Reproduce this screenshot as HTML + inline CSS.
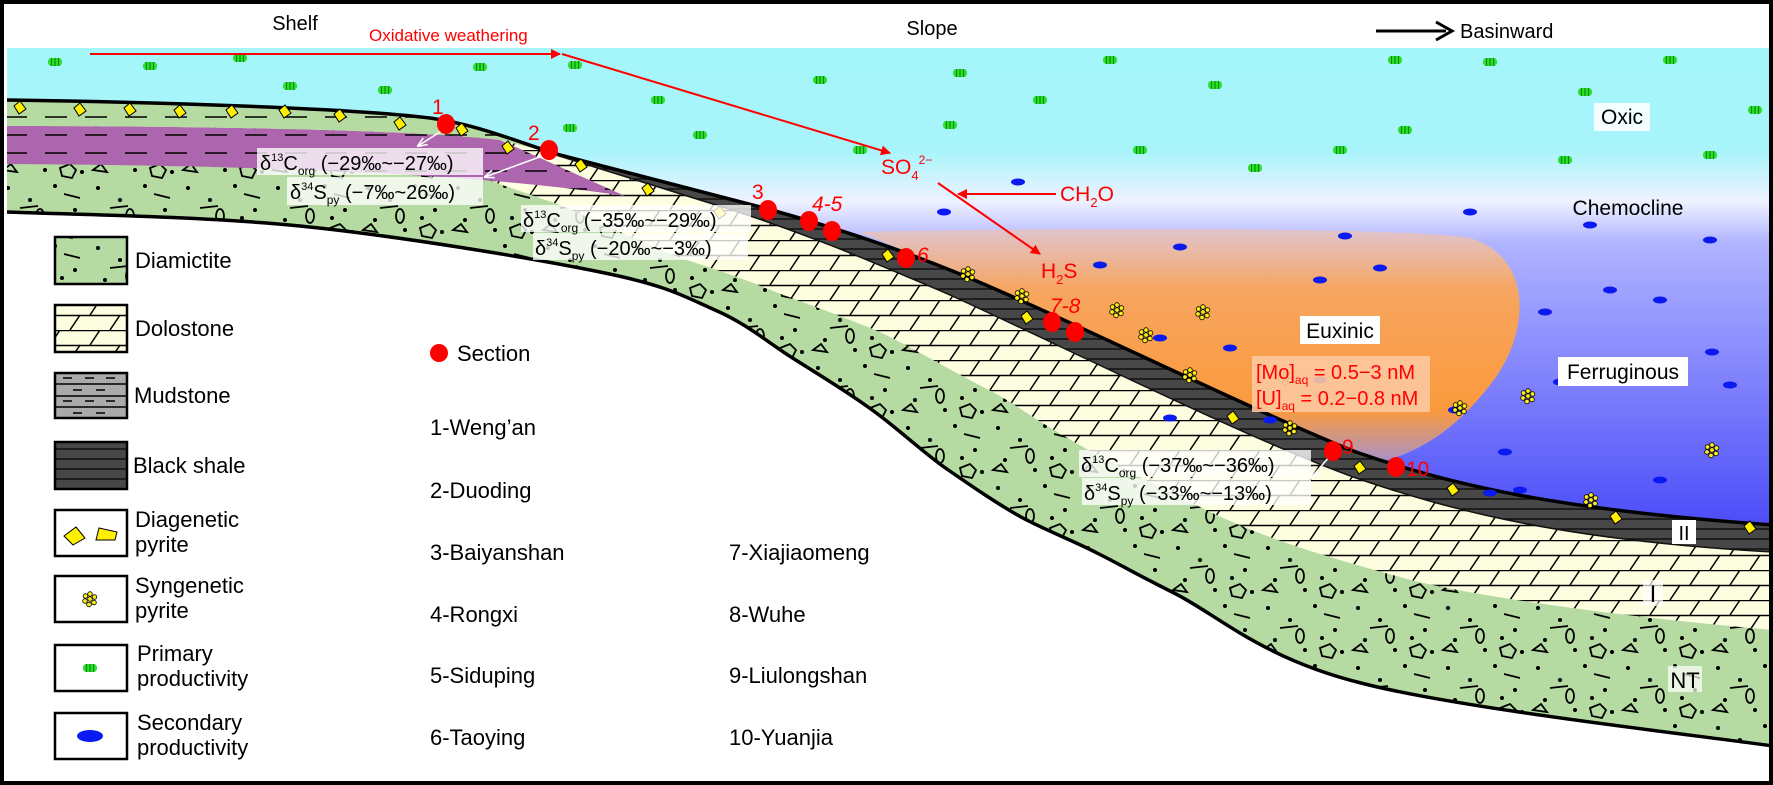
<!DOCTYPE html>
<html><head><meta charset="utf-8"><style>
html,body{margin:0;padding:0;background:#fff}
svg{display:block}
text{font-family:"Liberation Sans",sans-serif}
</style></head><body>
<svg width="1773" height="785" viewBox="0 0 1773 785" xmlns="http://www.w3.org/2000/svg">
<defs>
<linearGradient id="sea" x1="0" y1="48" x2="0" y2="560" gradientUnits="userSpaceOnUse">
<stop offset="0" stop-color="#a4f6fb"/><stop offset="0.2" stop-color="#a8f4fb"/><stop offset="0.3" stop-color="#eef2ff"/><stop offset="0.38" stop-color="#b0b4ff"/><stop offset="1" stop-color="#4040f8"/>
</linearGradient>
<linearGradient id="eux" x1="0" y1="230" x2="0" y2="470" gradientUnits="userSpaceOnUse">
<stop offset="0" stop-color="#e0c4cc"/><stop offset="0.25" stop-color="#f7a560"/><stop offset="0.75" stop-color="#fb9a3c"/><stop offset="1" stop-color="#9a90e0"/>
</linearGradient>
<pattern id="dia" width="90" height="60" patternUnits="userSpaceOnUse">
<rect width="90" height="60" fill="#b5dba2"/>
<g fill="#000"><circle cx="8" cy="8" r="2"/><circle cx="30" cy="20" r="2"/><circle cx="55" cy="6" r="2"/><circle cx="75" cy="30" r="2"/><circle cx="15" cy="40" r="2"/><circle cx="45" cy="50" r="2"/><circle cx="82" cy="52" r="2"/><circle cx="62" cy="38" r="2"/></g>
<g fill="none" stroke="#000" stroke-width="1.8"><line x1="20" y1="28" x2="38" y2="26"/><line x1="64" y1="14" x2="80" y2="18"/><ellipse cx="40" cy="36" rx="4" ry="7"/><path d="M60,48 l10,-4 l6,6 l-4,8 l-10,-2z"/><path d="M3,50 l8,-6 l6,8 z"/></g>
</pattern>
<pattern id="dol" width="40" height="30" patternUnits="userSpaceOnUse">
<rect width="40" height="30" fill="#fdfde0"/>
<g stroke="#000" stroke-width="1.5"><line x1="0" y1="0.5" x2="40" y2="0.5"/><line x1="0" y1="15.5" x2="40" y2="15.5"/><line x1="10" y1="15" x2="20" y2="0"/><line x1="30" y1="30" x2="40" y2="15"/><line x1="-10" y1="30" x2="0" y2="15"/></g>
</pattern>
<pattern id="sh" width="40" height="10" patternUnits="userSpaceOnUse">
<rect width="40" height="10" fill="#474747"/><line x1="0" y1="9" x2="40" y2="9" stroke="#111" stroke-width="1.5"/>
</pattern>
<pattern id="dash" width="40" height="18" patternUnits="userSpaceOnUse">
<line x1="5" y1="9" x2="27" y2="9" stroke="#000" stroke-width="1.6"/>
</pattern>
<marker id="ar" markerWidth="10" markerHeight="10" refX="9" refY="5" orient="auto" markerUnits="userSpaceOnUse"><path d="M0,0 L10,5 L0,10 z" fill="#f00"/></marker>
<marker id="aw" markerWidth="10" markerHeight="10" refX="9" refY="5" orient="auto" markerUnits="userSpaceOnUse"><path d="M0,1 L10,5 L0,9" fill="none" stroke="#fff" stroke-width="1.5"/></marker>
<g id="gp"><rect x="-7" y="-4" width="14" height="8" rx="3.5" fill="#2de02d"/><g stroke="#0a8a0a" stroke-width="1.2"><line x1="-3.5" y1="-4" x2="-3.5" y2="4"/><line x1="0" y1="-4" x2="0" y2="4"/><line x1="3.5" y1="-4" x2="3.5" y2="4"/></g></g>
<g id="bp"><ellipse rx="7" ry="3.5" fill="#0a1af0"/></g>
<g id="sp" fill="#ffef1a" stroke="#000" stroke-width="0.8"><circle cx="0" cy="-5" r="2.3"/><circle cx="4.5" cy="-2" r="2.3"/><circle cx="4" cy="3.5" r="2.3"/><circle cx="-1" cy="5.5" r="2.3"/><circle cx="-5" cy="2" r="2.3"/><circle cx="-4.5" cy="-3" r="2.3"/><circle cx="0" cy="0" r="2.3"/></g>
<g id="yp"><path d="M-6,-2 L0,-7 L6,1 L-1,6 z" fill="#ffef00" stroke="#000" stroke-width="1"/></g>
</defs>

<!-- sea -->
<rect x="7" y="48" width="1762" height="500" fill="url(#sea)"/>
<!-- euxinic -->
<path d="M860,232 C1000,228 1400,226 1470,238 C1535,258 1530,335 1490,385 C1455,430 1420,452 1380,462 L1356,452 C1250,410 1050,310 950,270 Z" fill="url(#eux)"/>

<!-- white below basement -->
<path d="M1773,746 C1704,736 1461,709 1361,683 C1261,658 1218,615 1174,593 C1130,571 1123,566 1097,553 C1072,540 1047,531 1021,517 C996,503 970,485 944,467 C919,449 894,425 868,407 C843,389 816,373 791,357 C766,341 747,324 715,310 C683,296 669,286 600,272 C531,258 399,236 300,226 C201,216 56,214 7,212 L7,785 L1773,785 Z" fill="#fff"/>

<!-- diamictite -->
<path d="M7,100 C150,102 350,108 430,118 C480,125 520,143 560,155 L768,209 C850,232 900,250 950,270 C1050,310 1250,410 1356,452 C1450,485 1560,510 1773,525 L1773,746 C1704,736 1461,709 1361,683 C1261,658 1218,615 1174,593 C1130,571 1123,566 1097,553 C1072,540 1047,531 1021,517 C996,503 970,485 944,467 C919,449 894,425 868,407 C843,389 816,373 791,357 C766,341 747,324 715,310 C683,296 669,286 600,272 C531,258 399,236 300,226 C201,216 56,214 7,212 Z" fill="url(#dia)"/>
<!-- dolostone -->
<path d="M7,100 C150,102 350,108 430,118 C480,125 520,143 560,155 L768,209 C850,232 900,250 950,270 C1050,310 1250,410 1356,452 C1450,485 1560,510 1773,525 L1773,630 C1600,615 1450,592 1400,577 C1320,555 1260,537 1200,507 C1150,482 1100,458 1059,433 C1020,410 1010,400 983,387 C940,365 900,340 868,327 C820,308 790,298 753,283 C720,270 690,262 660,250 C620,232 590,218 560,205 L482,178 L400,160 L7,150 Z" fill="url(#dol)"/>
<!-- purple -->
<path d="M7,126 C200,126 420,130 500,140 L625,196 C520,180 350,166 7,164 Z" fill="#ad66ad"/>
<path d="M7,126 C200,126 420,130 500,140 L625,196 C520,180 350,166 7,164 Z" fill="url(#dash)"/>
<!-- shale -->
<path d="M560,155 L768,209 C850,232 900,250 950,270 C1050,310 1250,410 1356,452 C1450,485 1560,510 1773,525 L1773,552 C1560,540 1450,510 1356,478 C1250,440 1060,345 950,295 C880,265 800,230 700,200 L540,150 Z" fill="url(#sh)"/>
<!-- shelf mud band -->
<path d="M7,100 C150,102 350,108 430,118 C480,125 520,143 560,155 L500,140 C420,130 200,126 7,126 Z" fill="#b5dba2"/>
<path d="M7,100 C150,102 350,108 430,118 C480,125 520,143 560,155 L500,140 C420,130 200,126 7,126 Z" fill="url(#dash)"/>
<!-- outlines -->
<path d="M7,100 C150,102 350,108 430,118 C480,125 520,143 560,155 L768,209 C850,232 900,250 950,270 C1050,310 1250,410 1356,452 C1450,485 1560,510 1773,525" fill="none" stroke="#000" stroke-width="3.5"/>
<path d="M7,212 C56,214 201,216 300,226 C399,236 531,258 600,272 C669,286 683,296 715,310 C747,324 766,341 791,357 C816,373 843,389 868,407 C894,425 919,449 944,467 C970,485 996,503 1021,517 C1047,531 1072,540 1097,553 C1123,566 1130,571 1174,593 C1218,615 1261,658 1361,683 C1461,709 1704,736 1773,746" fill="none" stroke="#000" stroke-width="3.5"/>
<path d="M1773,552 C1560,540 1450,510 1356,478 C1250,440 1060,345 950,295 C880,265 800,230 700,200 L540,150" fill="none" stroke="#111" stroke-width="1.5"/>

<!-- productivity -->
<g>
<use href="#gp" x="55" y="62"/><use href="#gp" x="150" y="66"/><use href="#gp" x="240" y="58"/><use href="#gp" x="290" y="86"/><use href="#gp" x="385" y="90"/><use href="#gp" x="480" y="67"/><use href="#gp" x="570" y="128"/><use href="#gp" x="575" y="65"/><use href="#gp" x="658" y="100"/><use href="#gp" x="700" y="135"/><use href="#gp" x="820" y="80"/><use href="#gp" x="960" y="73"/><use href="#gp" x="950" y="125"/><use href="#gp" x="1040" y="100"/><use href="#gp" x="1140" y="150"/><use href="#gp" x="1215" y="85"/><use href="#gp" x="1255" y="168"/><use href="#gp" x="1340" y="150"/><use href="#gp" x="1395" y="60"/><use href="#gp" x="1405" y="130"/><use href="#gp" x="1490" y="62"/><use href="#gp" x="1565" y="160"/><use href="#gp" x="1585" y="92"/><use href="#gp" x="1670" y="60"/><use href="#gp" x="1710" y="155"/><use href="#gp" x="1755" y="110"/><use href="#gp" x="1110" y="60"/><use href="#gp" x="860" y="150"/>
</g>
<g>
<use href="#bp" x="944" y="212"/><use href="#bp" x="1018" y="182"/><use href="#bp" x="1100" y="265"/><use href="#bp" x="1180" y="247"/><use href="#bp" x="1320" y="280"/><use href="#bp" x="1380" y="268"/><use href="#bp" x="1470" y="212"/><use href="#bp" x="1545" y="312"/><use href="#bp" x="1660" y="300"/><use href="#bp" x="1712" y="352"/><use href="#bp" x="1610" y="290"/><use href="#bp" x="1730" y="385"/><use href="#bp" x="1560" y="382"/><use href="#bp" x="1455" y="410"/><use href="#bp" x="1505" y="452"/><use href="#bp" x="1660" y="480"/><use href="#bp" x="1520" y="490"/><use href="#bp" x="1160" y="338"/><use href="#bp" x="1230" y="348"/><use href="#bp" x="1320" y="380"/><use href="#bp" x="1270" y="420"/><use href="#bp" x="1345" y="236"/><use href="#bp" x="1590" y="225"/><use href="#bp" x="1710" y="240"/><use href="#bp" x="1490" y="493"/><use href="#bp" x="1170" y="418"/>
</g>
<g>
<use href="#sp" x="968" y="274"/><use href="#sp" x="1022" y="296"/><use href="#sp" x="1117" y="310"/><use href="#sp" x="1146" y="335"/><use href="#sp" x="1203" y="312"/><use href="#sp" x="1190" y="375"/><use href="#sp" x="1286" y="377"/><use href="#sp" x="1290" y="428"/><use href="#sp" x="1460" y="408"/><use href="#sp" x="1528" y="396"/><use href="#sp" x="1591" y="500"/><use href="#sp" x="1712" y="450"/>
</g>
<g>
<use href="#yp" x="20" y="108"/><use href="#yp" x="80" y="110"/><use href="#yp" x="130" y="110"/><use href="#yp" x="180" y="112"/><use href="#yp" x="232" y="112"/><use href="#yp" x="285" y="112"/><use href="#yp" x="340" y="116"/><use href="#yp" x="400" y="124"/><use href="#yp" x="462" y="130"/><use href="#yp" x="508" y="148"/><use href="#yp" x="581" y="166"/><use href="#yp" x="648" y="190"/><use href="#yp" x="720" y="213"/><use href="#yp" x="888" y="256"/><use href="#yp" x="1027" y="318"/><use href="#yp" x="1233" y="418"/><use href="#yp" x="1360" y="468"/><use href="#yp" x="1453" y="490"/><use href="#yp" x="1616" y="518"/><use href="#yp" x="1750" y="528"/>
</g>

<!-- red process arrows -->
<line x1="90" y1="54" x2="560" y2="54" stroke="#f00" stroke-width="2" marker-end="url(#ar)"/>
<line x1="562" y1="54" x2="890" y2="153" stroke="#f00" stroke-width="2" marker-end="url(#ar)"/>
<line x1="938" y1="183" x2="1040" y2="254" stroke="#f00" stroke-width="2" marker-end="url(#ar)"/>
<line x1="1056" y1="194" x2="958" y2="194" stroke="#f00" stroke-width="2" marker-end="url(#ar)"/>
<text x="369" y="41" font-size="17" fill="#f00">Oxidative weathering</text>
<text x="881" y="174" font-size="21" fill="#f00">SO<tspan font-size="13" dy="6">4</tspan><tspan font-size="12" dy="-16">2−</tspan></text>
<text x="1060" y="201" font-size="21" fill="#f00">CH<tspan font-size="13" dy="6">2</tspan><tspan dy="-6">O</tspan></text>
<text x="1041" y="278" font-size="21" fill="#f00">H<tspan font-size="13" dy="6">2</tspan><tspan dy="-6">S</tspan></text>

<!-- zone labels -->
<rect x="1594" y="103" width="56" height="28" fill="#fff" opacity="0.85"/>
<text x="1622" y="124" font-size="21" text-anchor="middle">Oxic</text>
<text x="1628" y="215" font-size="21" text-anchor="middle">Chemocline</text>
<rect x="1300" y="316" width="80" height="28" fill="#fff"/>
<text x="1340" y="338" font-size="21" text-anchor="middle">Euxinic</text>
<rect x="1558" y="357" width="130" height="29" fill="#fff"/>
<text x="1623" y="379" font-size="21" text-anchor="middle">Ferruginous</text>
<rect x="1252" y="356" width="178" height="56" fill="#fcc8a0" opacity="0.9"/>
<text x="1256" y="379" font-size="20" fill="#f00">[Mo]<tspan font-size="12" dy="5">aq</tspan><tspan dy="-5"> = 0.5−3 nM</tspan></text>
<text x="1256" y="405" font-size="20" fill="#f00">[U]<tspan font-size="12" dy="5">aq</tspan><tspan dy="-5"> = 0.2−0.8 nM</tspan></text>

<!-- roman -->
<rect x="1672" y="520" width="24" height="24" fill="#fff"/><text x="1684" y="540" font-size="20" text-anchor="middle" font-family="Liberation Serif">II</text>
<rect x="1643" y="580" width="20" height="26" fill="#fff" opacity="0.7"/><text x="1653" y="602" font-size="24" text-anchor="middle" font-family="Liberation Serif">I</text>
<rect x="1668" y="666" width="34" height="26" fill="#fff" opacity="0.7"/><text x="1685" y="688" font-size="22" text-anchor="middle">NT</text>

<!-- isotope boxes -->
<g font-size="20">
<rect x="257" y="148" width="226" height="27" fill="#fff" opacity="0.78"/>
<rect x="287" y="177" width="196" height="28" fill="#fff" opacity="0.78"/>
<text x="260" y="170">δ<tspan font-size="11" dy="-9">13</tspan><tspan dy="9">C</tspan><tspan font-size="12" dy="5">org</tspan><tspan dy="-5"> (−29‰~−27‰)</tspan></text>
<text x="290" y="199">δ<tspan font-size="11" dy="-9">34</tspan><tspan dy="9">S</tspan><tspan font-size="12" dy="5">py</tspan><tspan dy="-5"> (−7‰~26‰)</tspan></text>
<rect x="521" y="205" width="230" height="27" fill="#fff" opacity="0.78"/>
<rect x="533" y="233" width="215" height="27" fill="#fff" opacity="0.78"/>
<text x="523" y="227">δ<tspan font-size="11" dy="-9">13</tspan><tspan dy="9">C</tspan><tspan font-size="12" dy="5">org</tspan><tspan dy="-5"> (−35‰~−29‰)</tspan></text>
<text x="535" y="255">δ<tspan font-size="11" dy="-9">34</tspan><tspan dy="9">S</tspan><tspan font-size="12" dy="5">py</tspan><tspan dy="-5"> (−20‰~−3‰)</tspan></text>
<rect x="1079" y="450" width="232" height="27" fill="#fff" opacity="0.78"/>
<rect x="1082" y="478" width="229" height="27" fill="#fff" opacity="0.78"/>
<text x="1081" y="472">δ<tspan font-size="11" dy="-9">13</tspan><tspan dy="9">C</tspan><tspan font-size="12" dy="5">org</tspan><tspan dy="-5"> (−37‰~−36‰)</tspan></text>
<text x="1084" y="500">δ<tspan font-size="11" dy="-9">34</tspan><tspan dy="9">S</tspan><tspan font-size="12" dy="5">py</tspan><tspan dy="-5"> (−33‰~−13‰)</tspan></text>
</g>
<line x1="443" y1="130" x2="418" y2="146" stroke="#fff" stroke-width="1.5" marker-end="url(#aw)"/>
<line x1="545" y1="155" x2="485" y2="177" stroke="#fff" stroke-width="1.5" marker-end="url(#aw)"/>
<line x1="1330" y1="456" x2="1311" y2="478" stroke="#fff" stroke-width="1.5" marker-end="url(#aw)"/>

<!-- section dots -->
<g fill="#f00">
<ellipse cx="446" cy="124" rx="9" ry="10"/><ellipse cx="549" cy="150" rx="9" ry="10"/><ellipse cx="768" cy="210" rx="9" ry="10"/><ellipse cx="809" cy="221" rx="9" ry="10"/><ellipse cx="832" cy="231" rx="9" ry="10"/><ellipse cx="906" cy="258" rx="9" ry="10"/><ellipse cx="1052" cy="322" rx="9" ry="10"/><ellipse cx="1075" cy="332" rx="9" ry="10"/><ellipse cx="1333" cy="451" rx="9" ry="10"/><ellipse cx="1396" cy="467" rx="9" ry="10"/>
</g>
<g fill="#f00" font-size="21">
<text x="432" y="114">1</text><text x="528" y="140">2</text><text x="752" y="199">3</text><text x="812" y="211" font-style="italic">4-5</text><text x="917" y="262" font-style="italic">6</text><text x="1050" y="313" font-style="italic">7-8</text><text x="1342" y="454">9</text><text x="1406" y="476">10</text>
</g>

<!-- top labels -->
<text x="295" y="30" font-size="20" text-anchor="middle">Shelf</text>
<text x="932" y="35" font-size="20" text-anchor="middle">Slope</text>
<line x1="1376" y1="31" x2="1446" y2="31" stroke="#000" stroke-width="3"/>
<path d="M1436,22 L1452,31 L1436,40" fill="none" stroke="#000" stroke-width="3"/>
<text x="1460" y="38" font-size="20">Basinward</text>

<!-- legend -->
<g stroke="#000" stroke-width="2.5">
<rect x="55" y="237" width="72" height="47" fill="url(#dia)"/>
<rect x="55" y="305" width="72" height="47" fill="url(#dol)"/>
<rect x="55" y="373" width="72" height="45" fill="#aaa"/>
<rect x="55" y="442" width="72" height="47" fill="url(#sh)"/>
<rect x="55" y="510" width="72" height="46" fill="#fff"/>
<rect x="55" y="576" width="72" height="46" fill="#fff"/>
<rect x="55" y="645" width="72" height="46" fill="#fff"/>
<rect x="55" y="713" width="72" height="46" fill="#fff"/>
</g>
<g stroke="#000" stroke-width="1.5"><line x1="55" y1="384" x2="127" y2="384"/><line x1="55" y1="396" x2="127" y2="396"/><line x1="55" y1="407" x2="127" y2="407"/><line x1="63" y1="378" x2="72" y2="378"/><line x1="85" y1="378" x2="94" y2="378"/><line x1="106" y1="378" x2="115" y2="378"/><line x1="73" y1="390" x2="82" y2="390"/><line x1="96" y1="390" x2="105" y2="390"/><line x1="63" y1="401" x2="72" y2="401"/><line x1="85" y1="401" x2="94" y2="401"/><line x1="106" y1="401" x2="115" y2="401"/><line x1="73" y1="413" x2="82" y2="413"/><line x1="96" y1="413" x2="105" y2="413"/></g>
<path d="M64,536 L76,527 L85,538 L73,545 z" fill="#ffef00" stroke="#000"/><path d="M99,528 L117,532 L115,540 L96,540 z" fill="#ffef00" stroke="#000"/>
<use href="#sp" x="90" y="599"/>
<use href="#gp" x="90" y="668"/>
<ellipse cx="90" cy="736" rx="13" ry="6" fill="#0a1af0"/>
<g font-size="22">
<text x="135" y="268">Diamictite</text>
<text x="135" y="336">Dolostone</text>
<text x="134" y="403">Mudstone</text>
<text x="133" y="473">Black shale</text>
<text x="135" y="527">Diagenetic</text><text x="135" y="552">pyrite</text>
<text x="135" y="593">Syngenetic</text><text x="135" y="618">pyrite</text>
<text x="137" y="661">Primary</text><text x="137" y="686">productivity</text>
<text x="137" y="730">Secondary</text><text x="137" y="755">productivity</text>
</g>
<circle cx="439" cy="353" r="9" fill="#f00"/>
<g font-size="22">
<text x="457" y="361">Section</text>
<text x="430" y="435">1-Weng’an</text>
<text x="430" y="498">2-Duoding</text>
<text x="430" y="560">3-Baiyanshan</text>
<text x="430" y="622">4-Rongxi</text>
<text x="430" y="683">5-Siduping</text>
<text x="430" y="745">6-Taoying</text>
<text x="729" y="560">7-Xiajiaomeng</text>
<text x="729" y="622">8-Wuhe</text>
<text x="729" y="683">9-Liulongshan</text>
<text x="729" y="745">10-Yuanjia</text>
</g>
<rect x="2" y="2" width="1769" height="781" fill="none" stroke="#000" stroke-width="4"/>
</svg>
</body></html>
